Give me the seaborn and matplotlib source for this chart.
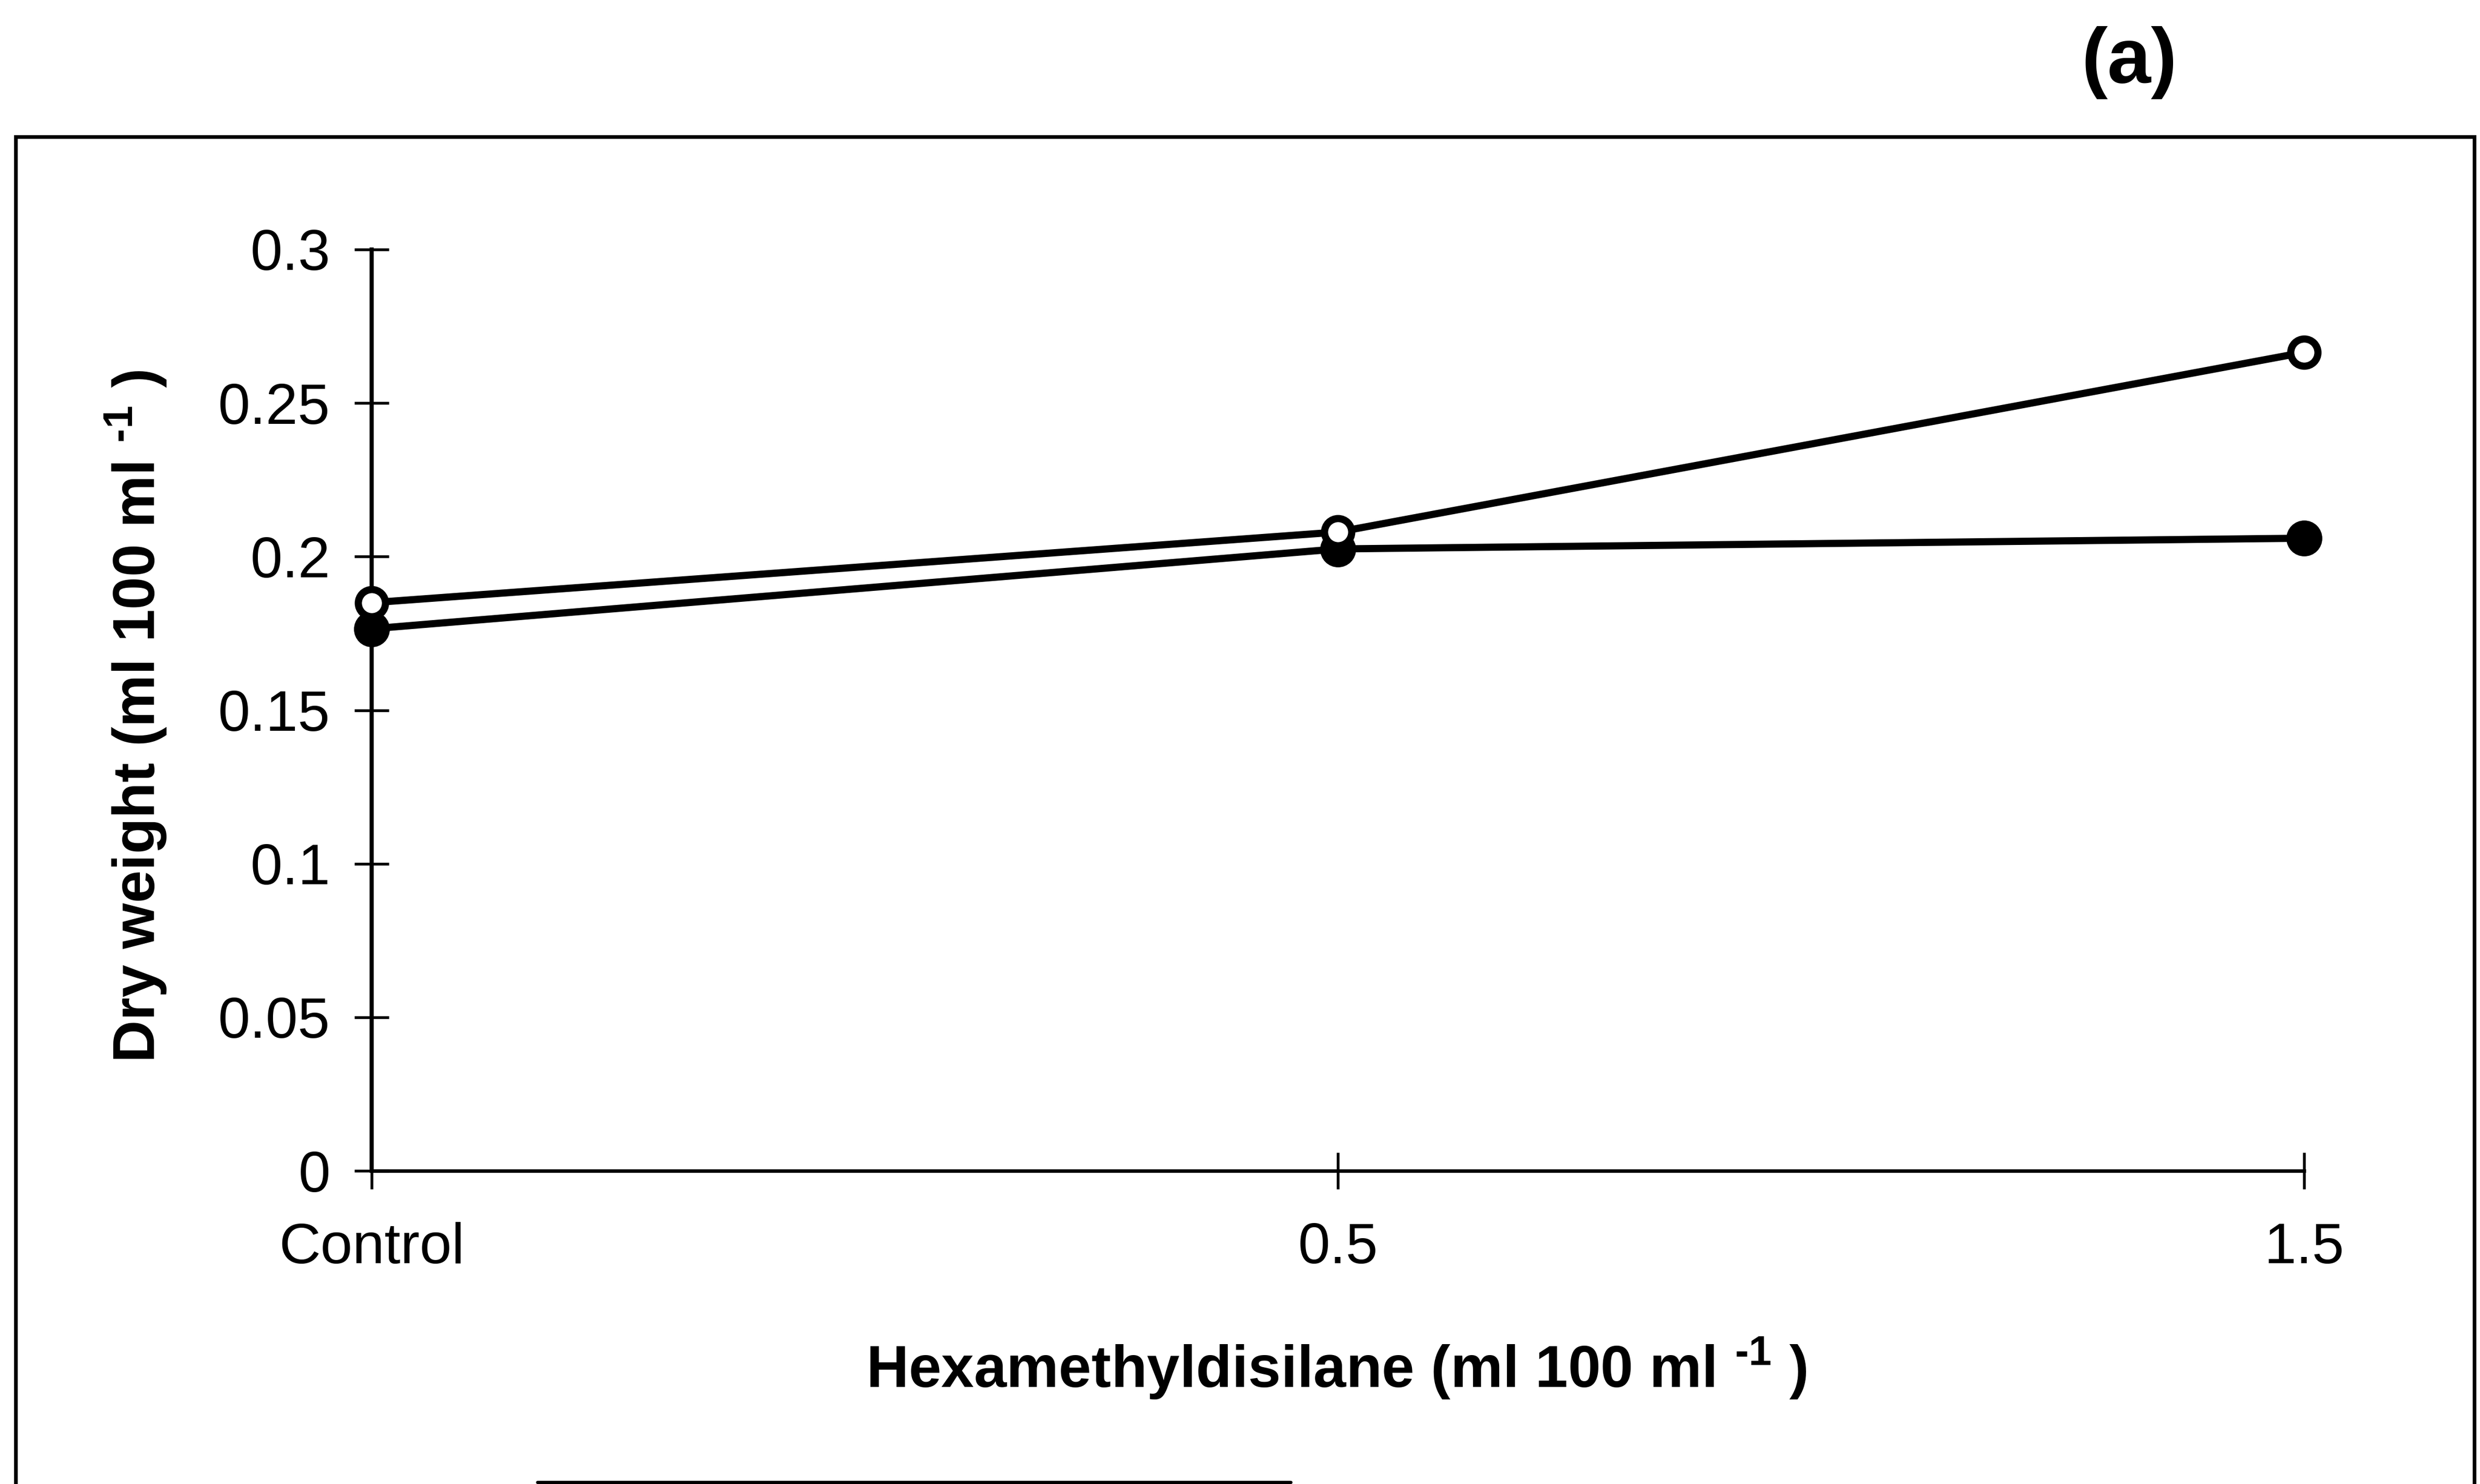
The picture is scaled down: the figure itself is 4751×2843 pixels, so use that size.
import matplotlib
matplotlib.use("Agg")
import matplotlib.pyplot as plt
from matplotlib.patches import Rectangle
from matplotlib.lines import Line2D
import pandas as pd
import seaborn as sns

# Hexamethyldisilane dose levels and dry weight responses
doses = ["Control", "0.5", "1.5"]
dry_weight_open = [0.185, 0.208, 0.2665]
dry_weight_filled = [0.1765, 0.2025, 0.206]
y_ticks = [0, 0.05, 0.1, 0.15, 0.2, 0.25, 0.3]
y_tick_labels = ["0", "0.05", "0.1", "0.15", "0.2", "0.25", "0.3"]

sns.set_style("white")
plt.rcParams["font.family"] = ["Liberation Sans", "DejaVu Sans"]
plt.rcParams["mathtext.fontset"] = "custom"
plt.rcParams["mathtext.rm"] = "Liberation Sans:bold"
plt.rcParams["mathtext.bf"] = "Liberation Sans:bold"
plt.rcParams["mathtext.default"] = "bf"
plt.rcParams["axes.unicode_minus"] = False
for key in ["text.color", "axes.labelcolor", "xtick.color", "ytick.color",
            "axes.edgecolor"]:
    plt.rcParams[key] = "black"

W, H, DPI = 4751, 2843, 300
fig = plt.figure(figsize=(W / DPI, H / DPI), dpi=DPI)
fig.patch.set_facecolor("white")

x0, x1 = 712, 4414
y0, y1 = 2243, 478
ax = fig.add_axes([x0 / W, 1 - y0 / H, (x1 - x0) / W, (y0 - y1) / H])
ax.set_facecolor("white")

df_filled = pd.DataFrame({"dose": doses, "dw": dry_weight_filled})
df_open = pd.DataFrame({"dose": doses, "dw": dry_weight_open})

sns.lineplot(data=df_filled, x="dose", y="dw", ax=ax, color="black",
             linewidth=3.3, marker="o", markersize=15.5, markerfacecolor="black",
             markeredgecolor="black", markeredgewidth=1.0, sort=False,
             clip_on=False, zorder=3)
sns.lineplot(data=df_open, x="dose", y="dw", ax=ax, color="black",
             linewidth=3.3, marker="o", markersize=12.5, markerfacecolor="white",
             markeredgecolor="black", markeredgewidth=3.3, sort=False,
             clip_on=False, zorder=4)

ax.set_xlim(0, 2)
ax.set_ylim(0, 0.3)
ax.set_yticks(y_ticks)
ax.set_yticklabels(y_tick_labels)

for s in ["top", "right"]:
    ax.spines[s].set_visible(False)
for s in ["left", "bottom"]:
    ax.spines[s].set_color("black")
ax.spines["left"].set_linewidth(1.9)
ax.spines["bottom"].set_linewidth(1.6)

ax.tick_params(axis="y", direction="inout", length=16, width=1.3,
               labelsize=26.5, pad=11, colors="black", left=True)
ax.tick_params(axis="x", direction="inout", length=17, width=1.3,
               labelsize=26.5, pad=15, colors="black", bottom=True)

sup = "$^{\u2010 1}$"
ax.set_xlabel("Hexamethyldisilane (ml 100 ml " + sup + " )", fontsize=27,
              fontweight="bold")
ax.set_ylabel("Dry weight (ml 100 ml " + sup + " )", fontsize=27,
              fontweight="bold")
ax.xaxis.label.set_va("center")
ax.xaxis.set_label_coords((2560 - x0) / (x1 - x0), (y0 - 2621) / (y0 - y1))
ax.yaxis.label.set_va("center")
ax.yaxis.set_label_coords((260 - x0) / (x1 - x0), (y0 - 1372) / (y0 - y1))

# panel letter
fig.text(4079 / W, 1 - 120 / H, "(a)", fontsize=36, fontweight="bold",
         ha="center", va="center")

# outer frame around the panel
fig.add_artist(Rectangle((30 / W, -0.05), (4740 - 30) / W, (1 - 262 / H) + 0.05,
                         transform=fig.transFigure, fill=False,
                         edgecolor="black", linewidth=1.7, clip_on=False))
# top edge of the box below the panel
fig.add_artist(Line2D([1030 / W, 2473 / W], [1 - 2840 / H, 1 - 2840 / H],
                      transform=fig.transFigure, color="black", linewidth=1.5))

fig.savefig("out.png", dpi=DPI, facecolor="white")
